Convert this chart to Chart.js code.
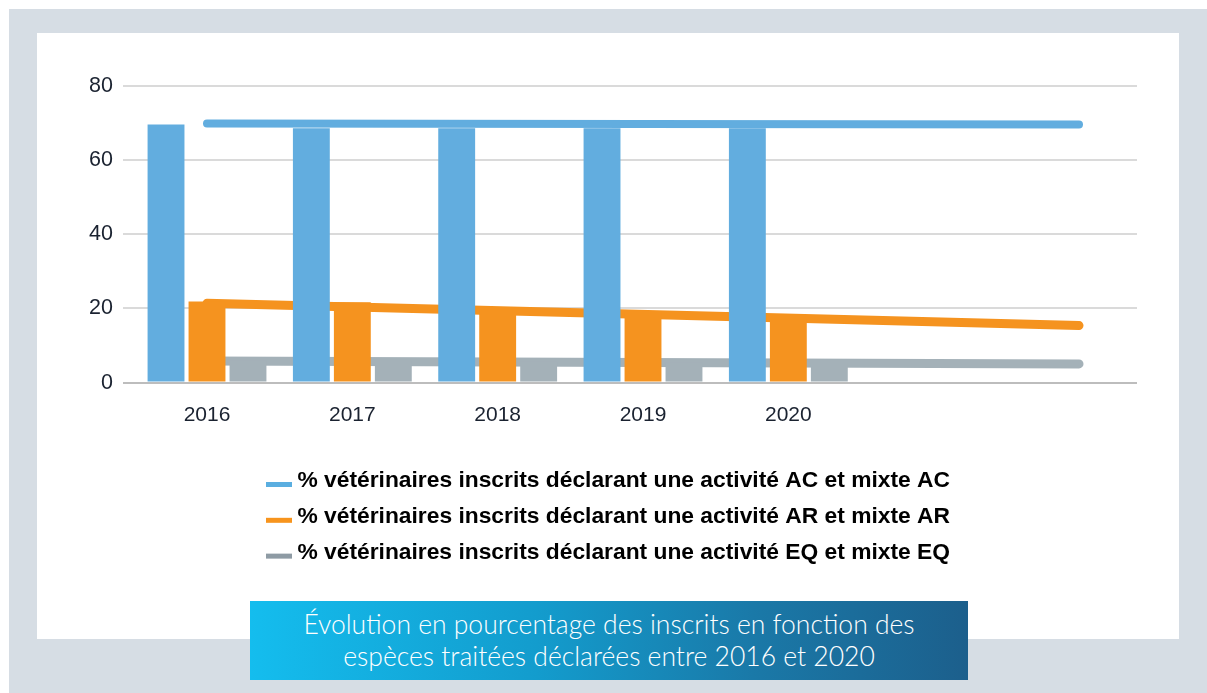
<!DOCTYPE html>
<html lang="fr">
<head>
<meta charset="utf-8">
<title>Évolution en pourcentage des inscrits</title>
<script src="https://cdn.jsdelivr.net/npm/chart.js@4.4.1/dist/chart.umd.min.js"></script>
<style>
    html, body { margin: 0; padding: 0; background: #ffffff; }
    body { position: relative; width: 1207px; height: 693px; overflow: hidden; }
    #frame { position: absolute; left: 9px; top: 9px; right: 0; bottom: 0; background: #d6dde4; }
    #panel { position: absolute; left: 37px; top: 33px; width: 1142px; height: 606px; background: #ffffff; }
    #chart-box { position: absolute; left: 37px; top: 33px; width: 1142px; height: 541px; }
    #caption {
        position: absolute; left: 250px; top: 601px; width: 718px; height: 79px;
        box-sizing: border-box; padding-top: 7px;
        background: linear-gradient(to right, #14bdee 0%, #139ccd 40%, #1a79a8 70%, #1c5f8c 100%);
        color: #ffffff; text-align: center;
        font-family: 'Lato', 'Open Sans', sans-serif; font-weight: 300;
        font-size: 26.5px; line-height: 32px; white-space: nowrap;
    }
</style>
</head>
<body>
<div id="frame"></div>
<div id="panel"></div>
<div id="chart-box"><canvas id="species-chart"></canvas></div>
<div id="caption">Évolution en pourcentage des inscrits en fonction des<br>espèces traitées déclarées entre 2016 et 2020</div>

<script>
'use strict';

/* Section 1: data */

const years = ['2016', '2017', '2018', '2019', '2020'];
const yearPositions = [0, 1, 2, 3, 4];
// trend lines run on past the last year (two more periods)
const trendPositions = [0, 6];

const acValues = [69.6, 68.6, 68.6, 68.6, 68.6];
const arValues = [21.9, 21.7, 19.8, 18.8, 17.0];
const eqValues = [5.9, 5.8, 5.6, 5.5, 5.4];

const acTrend = [69.9, 69.6];
const arTrend = [21.4, 15.4];
const eqTrend = [5.8, 5.05];

const legendTexts = [
    '% vétérinaires inscrits déclarant une activité AC et mixte AC',
    '% vétérinaires inscrits déclarant une activité AR et mixte AR',
    '% vétérinaires inscrits déclarant une activité EQ et mixte EQ'
];

const yMin = 0;
const yMax = 80;
const yStep = 20;


/* Section 2: helpers */

const blue = '#62addf';
const orange = '#f5931f';
const grey = '#a4b1b8';
const textColor = '#1a2230';

function toPoints(xs, ys) {
    return xs.map((x, i) => ({x: x, y: ys[i]}));
}

// little flat bar sitting on the text baseline, used as legend symbol
function legendMarker(color) {
    const c = document.createElement('canvas');
    c.width = 26;
    c.height = 24;
    const g = c.getContext('2d');
    g.fillStyle = color;
    g.fillRect(0, 13, 26, 5);
    return c;
}

const markers = [legendMarker('#5aaee0'), legendMarker('#f7941d'), legendMarker('#8e9ba4')];


/* Section 3: chart */

const barData = {
    datasets: [
        {
            label: legendTexts[0],
            data: toPoints(yearPositions, acValues),
            backgroundColor: blue
        }, {
            label: legendTexts[1],
            data: toPoints(yearPositions, arValues),
            backgroundColor: orange
        }, {
            label: legendTexts[2],
            data: toPoints(yearPositions, eqValues),
            backgroundColor: grey
        }, {
            type: 'line',
            label: 'tendance AC',
            data: toPoints(trendPositions, acTrend),
            borderColor: blue,
            borderWidth: 8,
            borderCapStyle: 'round',
            pointRadius: 0
        }, {
            type: 'line',
            label: 'tendance AR',
            data: toPoints(trendPositions, arTrend),
            borderColor: orange,
            borderWidth: 9,
            borderCapStyle: 'round',
            pointRadius: 0
        }, {
            type: 'line',
            label: 'tendance EQ',
            data: toPoints(trendPositions, eqTrend),
            borderColor: grey,
            borderWidth: 9,
            borderCapStyle: 'round',
            pointRadius: 0
        }
    ]
};

const barConfig = {
    type: 'bar',
    data: barData,
    options: {
        responsive: true,
        maintainAspectRatio: false,
        animation: false,
        categoryPercentage: 0.846,
        barPercentage: 0.9,
        layout: {
            padding: {left: 48, right: 42, top: 53, bottom: 0}
        },
        scales: {
            x: {
                type: 'linear',
                offset: false,
                min: -0.578,
                max: 6.399,
                afterBuildTicks: axis => {
                    axis.ticks = yearPositions.map(v => ({value: v}));
                },
                afterFit: axis => {
                    axis.height = 74;
                },
                grid: {display: false},
                border: {display: false},
                ticks: {
                    autoSkip: false,
                    maxRotation: 0,
                    padding: 12,
                    color: textColor,
                    font: {family: "'Liberation Sans', Arial, sans-serif", size: 21},
                    callback: value => years[value] ?? ''
                }
            },
            y: {
                min: yMin,
                max: yMax,
                afterFit: axis => {
                    axis.width = 38;
                },
                grid: {
                    color: ctx => ctx.tick.value === 0 ? '#bdbdbd' : '#dadada',
                    lineWidth: 2,
                    drawTicks: false
                },
                border: {display: false},
                ticks: {
                    stepSize: yStep,
                    padding: 10,
                    color: textColor,
                    font: {family: "'Liberation Sans', Arial, sans-serif", size: 21.5}
                }
            }
        },
        plugins: {
            legend: {
                position: 'bottom',
                align: 'center',
                labels: {
                    usePointStyle: true,
                    pointStyleWidth: 14,
                    padding: 13,
                    color: '#1c2c42',
                    font: {family: "'Liberation Sans', Arial, sans-serif", size: 22.8, weight: 'bold'},
                    generateLabels: () => legendTexts.map((text, i) => ({
                        text: text,
                        fillStyle: 'transparent',
                        strokeStyle: 'transparent',
                        lineWidth: 0,
                        pointStyle: markers[i],
                        hidden: false,
                        datasetIndex: i
                    }))
                }
            },
            tooltip: {
                enabled: false
            }
        }
    }
};

const speciesChart = new Chart(document.querySelector('#species-chart'), barConfig);
</script>
</body>
</html>
